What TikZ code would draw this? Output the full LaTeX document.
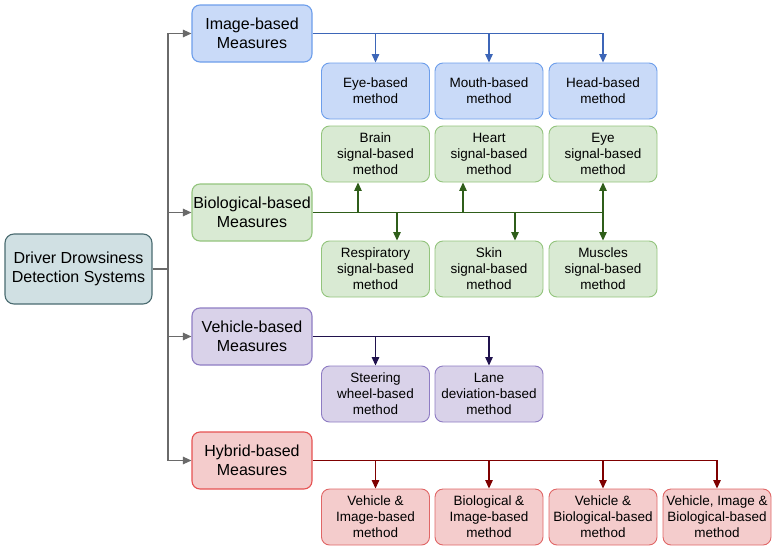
\documentclass[tikz,border=0pt]{standalone}
\usepackage{fontspec}
\setmainfont{Liberation Sans}
\usetikzlibrary{arrows.meta}
\definecolor{bfill}{HTML}{C9DAF8}\definecolor{bdraw}{HTML}{6D9EEB}\definecolor{bline}{HTML}{3D66B8}
\definecolor{gfill}{HTML}{D9EAD3}\definecolor{gdraw}{HTML}{93C47D}\definecolor{gline}{HTML}{2F5E1A}
\definecolor{pfill}{HTML}{D9D2E9}\definecolor{pdraw}{HTML}{8E7CC3}\definecolor{pline}{HTML}{20124D}
\definecolor{rfill}{HTML}{F4CCCC}\definecolor{rdraw}{HTML}{E06666}\definecolor{rline}{HTML}{7F0000}
\definecolor{tfill}{HTML}{D0E0E3}\definecolor{tdraw}{HTML}{4A6B70}\definecolor{trunk}{HTML}{6A6A6A}
\tikzset{
  cat/.style={draw, rounded corners=8pt, line width=1.1pt, minimum width=120pt, minimum height=57pt,
    inner sep=0pt, align=center, font=\fontsize{16}{18.5}\selectfont},
  sub/.style={draw, rounded corners=8pt, line width=0.9pt, minimum width=108pt, minimum height=56pt,
    inner sep=0pt, align=center, font=\fontsize{13.5}{16}\selectfont},
  conn/.style={line width=1.2pt, -{Triangle[length=8.5pt,width=7.5pt]}},
  seg/.style={line width=1.2pt},
}
\begin{document}
\begin{tikzpicture}[x=1pt,y=-1pt]
\useasboundingbox (0,0) rectangle (776,554);
% root
\node[draw=tdraw, fill=tfill, rounded corners=9pt, line width=1.1pt, minimum width=147pt, minimum height=70pt,
  inner sep=0pt, align=center, font=\fontsize{16}{19.5}\selectfont] (root) at (78.5,269) {Driver Drowsiness\\Detection Systems};
% categories
\node[cat, draw=bdraw, fill=bfill] (img) at (252,33.5) {Image-based\\Measures};
\node[cat, draw=gdraw, fill=gfill] (bio) at (252,212.5) {Biological-based\\Measures};
\node[cat, draw=pdraw, fill=pfill] (veh) at (252,336.5) {Vehicle-based\\Measures};
\node[cat, draw=rdraw!80!red, fill=rfill] (hyb) at (252,460.5) {Hybrid-based\\Measures};
% image subs
\node[sub, draw=bdraw, fill=bfill] (i1) at (375.5,91) {Eye-based\\method};
\node[sub, draw=bdraw, fill=bfill] (i2) at (489,91) {Mouth-based\\method};
\node[sub, draw=bdraw, fill=bfill] (i3) at (603,91) {Head-based\\method};
% bio subs
\node[sub, draw=gdraw, fill=gfill] (b1) at (375.5,154) {Brain\\signal-based\\method};
\node[sub, draw=gdraw, fill=gfill] (b2) at (489,154) {Heart\\signal-based\\method};
\node[sub, draw=gdraw, fill=gfill] (b3) at (603,154) {Eye\\signal-based\\method};
\node[sub, draw=gdraw, fill=gfill] (m1) at (375.5,269) {Respiratory\\signal-based\\method};
\node[sub, draw=gdraw, fill=gfill] (m2) at (489,269) {Skin\\signal-based\\method};
\node[sub, draw=gdraw, fill=gfill] (m3) at (603,269) {Muscles\\signal-based\\method};
% vehicle subs
\node[sub, draw=pdraw, fill=pfill] (v1) at (375.5,394) {Steering\\wheel-based\\method};
\node[sub, draw=pdraw, fill=pfill] (v2) at (489,394) {Lane\\deviation-based\\method};
% hybrid subs
\node[sub, draw=rdraw, fill=rfill] (h1) at (375.5,517) {Vehicle \&\\Image-based\\method};
\node[sub, draw=rdraw, fill=rfill] (h2) at (489,517) {Biological \&\\Image-based\\method};
\node[sub, draw=rdraw, fill=rfill] (h3) at (603,517) {Vehicle \&\\Biological-based\\method};
\node[sub, draw=rdraw, fill=rfill] (h4) at (717,517) {Vehicle, Image \&\\Biological-based\\method};
% trunk
\coordinate (t) at (168,269);
\draw[seg, trunk] (root.east) -- (t);
\draw[conn, trunk] (t) |- (img.west);
\draw[conn, trunk] (t) |- (bio.west);
\draw[conn, trunk] (t) |- (veh.west);
\draw[conn, trunk] (t) |- (hyb.west);
% image connectors
\draw[conn, bline] (img.east) -| (i3.north);
\draw[conn, bline] (img.east -| i1.north) -- (i1.north);
\draw[conn, bline] (img.east -| i2.north) -- (i2.north);
% bio connectors
\coordinate (ju1) at (358,212.5);
\coordinate (ju2) at (463,212.5);
\coordinate (jd1) at (397,212.5);
\coordinate (jd2) at (515,212.5);
\draw[seg, gline] (bio.east) -- (bio.east -| m3.north);
\draw[conn, gline] (ju1) -- (ju1 |- b1.south);
\draw[conn, gline] (ju2) -- (ju2 |- b2.south);
\draw[conn, gline] (bio.east -| b3.south) -- (b3.south);
\draw[conn, gline] (jd1) -- (jd1 |- m1.north);
\draw[conn, gline] (jd2) -- (jd2 |- m2.north);
\draw[conn, gline] (bio.east -| m3.north) -- (m3.north);
% vehicle connectors
\draw[conn, pline] (veh.east) -| (v2.north);
\draw[conn, pline] (veh.east -| v1.north) -- (v1.north);
% hybrid connectors
\draw[conn, rline] (hyb.east) -| (h4.north);
\draw[conn, rline] (hyb.east -| h1.north) -- (h1.north);
\draw[conn, rline] (hyb.east -| h2.north) -- (h2.north);
\draw[conn, rline] (hyb.east -| h3.north) -- (h3.north);
\end{tikzpicture}
\end{document}
